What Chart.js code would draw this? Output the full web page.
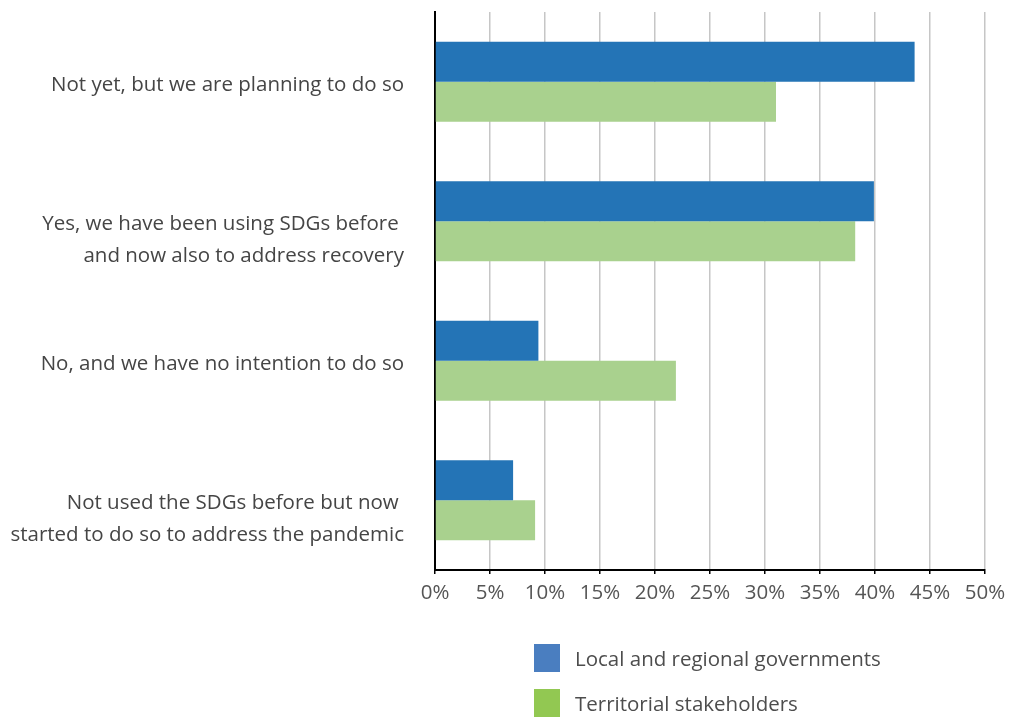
<!DOCTYPE html>
<html>
<head>
<meta charset="utf-8">
<script src="https://cdn.jsdelivr.net/npm/chart.js@4/dist/chart.umd.min.js"></script>
<style>
  html, body { margin: 0; padding: 0; background: #ffffff; }
  canvas { display: block; }
</style>
</head>
<body>
<canvas id="chart" width="1020" height="718"></canvas>
<script>
// Answer categories (an empty first line keeps the wording starting at the bar centre)
const categories = [
  "Not yet, but we are planning to do so",
  ["", "Yes, we have been using SDGs before ", "and now also to address recovery"],
  "No, and we have no intention to do so",
  ["", "Not used the SDGs before but now ", "started to do so to address the pandemic"]
];

// Share of respondents (%)
const localRegionalGov = [43.6, 39.9, 9.4, 7.1];
const territorialStakeholders = [31.0, 38.2, 21.9, 9.1];

const seriesNames = ["Local and regional governments", "Territorial stakeholders"];
const xTicks = [0, 5, 10, 15, 20, 25, 30, 35, 40, 45, 50];

const FONT = "'Open Sans', 'Noto Sans', sans-serif";
const FONT_SIZE = 20.5;

// Legend swatches drawn under the plot
const legendPlugin = {
  id: "blockLegend",
  afterDraw(chart) {
    const ctx = chart.ctx;
    const swatch = ["#4a7ec0", "#92c852"];
    ctx.save();
    ctx.font = FONT_SIZE + "px " + FONT;
    ctx.textBaseline = "middle";
    ctx.textAlign = "left";
    seriesNames.forEach((name, i) => {
      const top = 644 + i * 45;
      ctx.fillStyle = swatch[i];
      ctx.fillRect(534, top, 26, 28);
      ctx.fillStyle = "#4d4d4d";
      ctx.fillText(name, 575, top + 16);
    });
    ctx.restore();
  }
};

new Chart(document.getElementById("chart"), {
  type: "bar",
  data: {
    labels: categories,
    datasets: [
      {
        label: seriesNames[0],
        data: localRegionalGov,
        backgroundColor: "#2474b6",
        categoryPercentage: 0.575,
        barPercentage: 1.0
      },
      {
        label: seriesNames[1],
        data: territorialStakeholders,
        backgroundColor: "#a9d18e",
        categoryPercentage: 0.575,
        barPercentage: 1.0
      }
    ]
  },
  options: {
    indexAxis: "y",
    responsive: false,
    animation: false,
    devicePixelRatio: 1,
    layout: { padding: { top: 12, right: 35, bottom: 108, left: 0 } },
    plugins: {
      legend: { display: false },
      tooltip: { enabled: false }
    },
    scales: {
      x: {
        min: 0,
        max: 50,
        afterBuildTicks(scale) {
          scale.ticks = xTicks.map(v => ({ value: v }));
        },
        afterFit(scale) {
          scale.height = 40;
          scale.paddingLeft = 0;
          scale.paddingRight = 0;
        },
        grid: {
          color: "#c6c6c6",
          lineWidth: 1.5,
          tickColor: "#000000",
          tickLength: 4,
          drawTicks: true
        },
        border: { display: true, color: "#000000", width: 2 },
        ticks: {
          padding: 7,
          color: "#555555",
          font: { family: FONT, size: FONT_SIZE },
          callback: v => v + "%",
          maxRotation: 0
        }
      },
      y: {
        afterFit(scale) {
          scale.width = 435;
          scale.paddingTop = 0;
          scale.paddingBottom = 0;
        },
        grid: { display: false, drawTicks: false },
        border: { display: true, color: "#000000", width: 2 },
        ticks: {
          padding: 31,
          labelOffset: 3,
          crossAlign: "near",
          color: "#454545",
          font: { family: FONT, size: FONT_SIZE, lineHeight: 1.55 }
        }
      }
    }
  },
  plugins: [legendPlugin]
});
</script>
</body>
</html>
